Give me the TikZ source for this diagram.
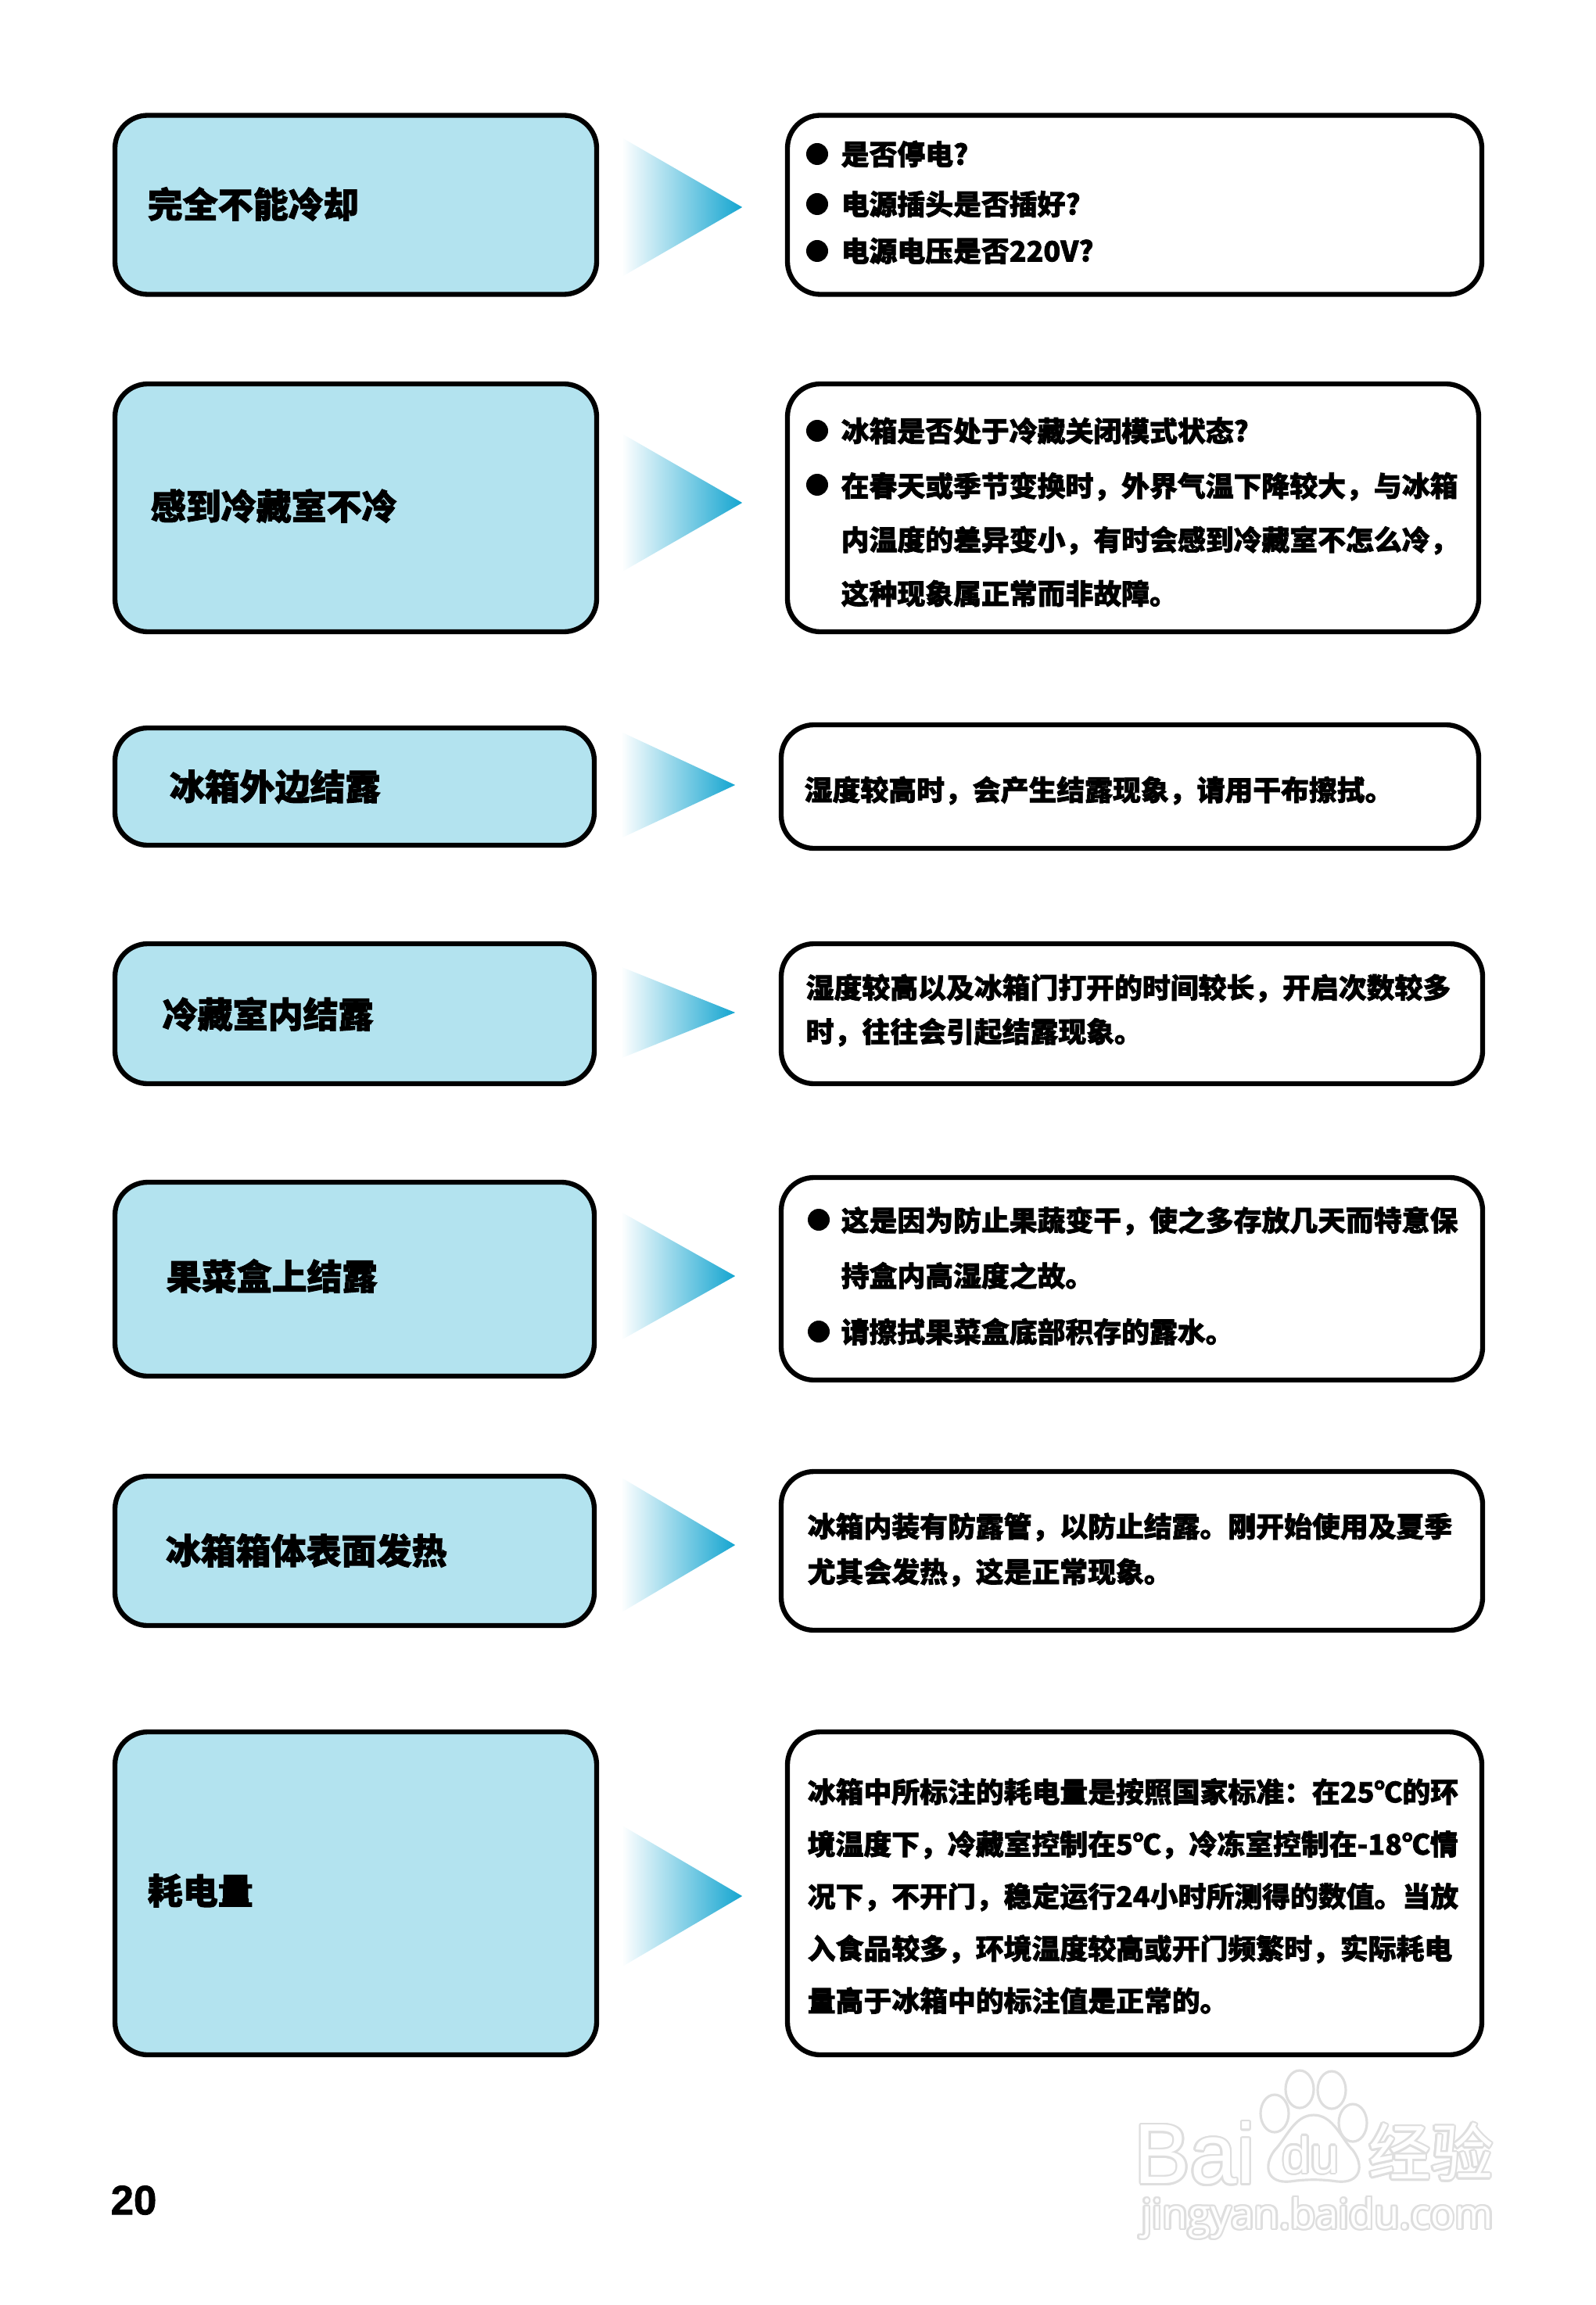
\documentclass[tikz,border=0pt]{standalone}
\usepackage{fontspec}
\usepackage{xcolor}
\usepackage{contour}
\usepackage{tikz}
\usetikzlibrary{shapes.geometric,positioning}
\newfontfamily\cjk[BoldFeatures={FakeBold=2}]{Noto Sans CJK SC}
\newfontfamily\latinsans[BoldFeatures={FakeBold=1.5}]{Liberation Sans}
\newfontfamily\marksans{Open Sans}
\definecolor{boxblue}{HTML}{B3E3EF}
\definecolor{tipblue}{HTML}{14A5D0}
\definecolor{tipmid}{HTML}{6CC6E0}
\definecolor{markgray}{HTML}{DEDEDE}
\contourlength{0.7pt}
\tikzset{
    faultbox/.style={draw=black, line width=1.8pt, fill=boxblue, rounded corners=0.42cm, inner sep=0pt},
    answerbox/.style={draw=black, line width=1.8pt, fill=white, rounded corners=0.42cm, inner sep=0pt},
    faulttext/.style={font=\cjk\bfseries\fontsize{12.8}{15}\selectfont, anchor=west, inner sep=0pt},
    anstext/.style={font=\cjk\bfseries\fontsize{10.2}{#1}\selectfont, align=left, anchor=west, inner sep=0pt},
    anstext/.default=15,
    dotmark/.style={circle, fill=black, minimum size=0.28cm, inner sep=0pt},
    gradtip/.style={isosceles triangle, isosceles triangle stretches, anchor=apex, inner sep=0pt, left color=white, middle color=tipmid, right color=tipblue},
    markline/.style={draw=markgray, line width=0.9pt, fill=white}
}
\begin{document}
\begin{tikzpicture}[x=1cm, y=-1cm]
    \useasboundingbox (0,0) rectangle (20.4,29.48);

    % Fault boxes
    \node[faultbox, minimum width=6.16cm, minimum height=2.29cm] (fault1) at (4.55,2.62) {};
    \node[faultbox, minimum width=6.16cm, minimum height=3.17cm] (fault2) at (4.55,6.495) {};
    \node[faultbox, minimum width=6.13cm, minimum height=1.50cm] (fault3) at (4.535,10.06) {};
    \node[faultbox, minimum width=6.13cm, minimum height=1.79cm] (fault4) at (4.535,12.965) {};
    \node[faultbox, minimum width=6.13cm, minimum height=2.48cm] (fault5) at (4.535,16.36) {};
    \node[faultbox, minimum width=6.13cm, minimum height=1.91cm] (fault6) at (4.535,19.835) {};
    \node[faultbox, minimum width=6.16cm, minimum height=4.13cm] (fault7) at (4.55,24.215) {};

    \node[faulttext] (faulttext1) at (1.88,2.61) {完全不能冷却};
    \node[faulttext] (faulttext2) at (1.92,6.47) {感到冷藏室不冷};
    \node[faulttext] (faulttext3) at (2.16,10.06) {冰箱外边结露};
    \node[faulttext] (faulttext4) at (2.07,12.97) {冷藏室内结露};
    \node[faulttext] (faulttext5) at (2.12,16.32) {果菜盒上结露};
    \node[faulttext] (faulttext6) at (2.11,19.83) {冰箱箱体表面发热};
    \node[faulttext] (faulttext7) at (1.88,24.18) {耗电量};

    % Answer boxes
    \node[answerbox, minimum width=8.88cm, minimum height=2.29cm] (answer1) at (14.51,2.62) {};
    \node[answerbox, minimum width=8.84cm, minimum height=3.17cm] (answer2) at (14.49,6.495) {};
    \node[answerbox, minimum width=8.92cm, minimum height=1.58cm] (answer3) at (14.45,10.06) {};
    \node[answerbox, minimum width=8.97cm, minimum height=1.79cm] (answer4) at (14.475,12.965) {};
    \node[answerbox, minimum width=8.97cm, minimum height=2.59cm] (answer5) at (14.475,16.355) {};
    \node[answerbox, minimum width=8.97cm, minimum height=2.03cm] (answer6) at (14.475,19.835) {};
    \node[answerbox, minimum width=8.88cm, minimum height=4.13cm] (answer7) at (14.51,24.215) {};

    % Gradient tips
    \node[gradtip, minimum width=1.78cm, minimum height=1.54cm] (tip1) at (9.51,2.65) {};
    \node[gradtip, minimum width=1.77cm, minimum height=1.54cm] (tip2) at (9.51,6.43) {};
    \node[gradtip, minimum width=1.36cm, minimum height=1.46cm] (tip3) at (9.42,10.04) {};
    \node[gradtip, minimum width=1.17cm, minimum height=1.46cm] (tip4) at (9.42,12.95) {};
    \node[gradtip, minimum width=1.64cm, minimum height=1.46cm] (tip5) at (9.42,16.32) {};
    \node[gradtip, minimum width=1.73cm, minimum height=1.46cm] (tip6) at (9.42,19.76) {};
    \node[gradtip, minimum width=1.81cm, minimum height=1.54cm] (tip7) at (9.51,24.25) {};

    % Answer 1
    \node[dotmark] (dot1a) at (10.45,1.97) {};
    \node[dotmark] (dot1b) at (10.45,2.61) {};
    \node[dotmark] (dot1c) at (10.45,3.21) {};
    \node[anstext] (ans1a) at (10.75,1.97) {是否停电?};
    \node[anstext] (ans1b) at (10.75,2.61) {电源插头是否插好?};
    \node[anstext] (ans1c) at (10.75,3.21) {电源电压是否220V?};

    % Answer 2
    \node[dotmark] (dot2a) at (10.45,5.51) {};
    \node[dotmark] (dot2b) at (10.45,6.20) {};
    \node[anstext] (ans2a) at (10.75,5.51) {冰箱是否处于冷藏关闭模式状态?};
    \node[anstext=19.6] (ans2b) at (10.75,6.90) {在春天或季节变换时^^^^ff0c外界气温下降较大^^^^ff0c与冰箱\\内温度的差异变小^^^^ff0c有时会感到冷藏室不怎么冷^^^^ff0c\\这种现象属正常而非故障。};

    % Answers 3 and 4
    \node[anstext] (ans3) at (10.28,10.11) {湿度较高时^^^^ff0c会产生结露现象^^^^ff0c请用干布擦拭。};
    \node[anstext=16] (ans4) at (10.30,12.92) {湿度较高以及冰箱门打开的时间较长^^^^ff0c开启次数较多\\时^^^^ff0c往往会引起结露现象。};

    % Answer 5
    \node[dotmark] (dot5a) at (10.47,15.60) {};
    \node[dotmark] (dot5b) at (10.47,17.03) {};
    \node[anstext=20.2] (ans5a) at (10.75,15.96) {这是因为防止果蔬变干^^^^ff0c使之多存放几天而特意保\\持盒内高湿度之故。};
    \node[anstext] (ans5b) at (10.75,17.03) {请擦拭果菜盒底部积存的露水。};

    % Answers 6 and 7
    \node[anstext=16.5] (ans6) at (10.32,19.82) {冰箱内装有防露管^^^^ff0c以防止结露。刚开始使用及夏季\\尤其会发热^^^^ff0c这是正常现象。};
    \node[anstext=19] (ans7) at (10.32,24.25) {冰箱中所标注的耗电量是按照国家标准^^^^ff1a在25℃的环\\境温度下^^^^ff0c冷藏室控制在5℃^^^^ff0c冷冻室控制在-18℃情\\况下^^^^ff0c不开门^^^^ff0c稳定运行24小时所测得的数值。当放\\入食品较多^^^^ff0c环境温度较高或开门频繁时^^^^ff0c实际耗电\\量高于冰箱中的标注值是正常的。};

    % Page number
    \node[font=\latinsans\bfseries\fontsize{15}{18}\selectfont, inner sep=0pt] (pagenum) at (1.71,28.14) {20};

    % Watermark
    \draw[markline] (16.30,27.03) ellipse [x radius=0.18, y radius=0.24];
    \draw[markline] (16.62,26.72) ellipse [x radius=0.18, y radius=0.24];
    \draw[markline] (17.03,26.73) ellipse [x radius=0.18, y radius=0.24];
    \draw[markline] (17.30,27.15) ellipse [x radius=0.18, y radius=0.24];
    \draw[markline] (16.80,27.05) .. controls (17.05,27.05) and (17.15,27.35) .. (17.30,27.50) .. controls (17.45,27.70) and (17.40,27.93) .. (17.10,27.90) .. controls (16.90,27.87) and (16.70,27.87) .. (16.50,27.90) .. controls (16.20,27.93) and (16.15,27.70) .. (16.30,27.50) .. controls (16.45,27.35) and (16.55,27.05) .. (16.80,27.05) -- cycle;
    \node[font=\latinsans\fontsize{31}{34}\selectfont, inner sep=0pt, xscale=0.98] (markbai) at (15.28,27.55) {\contour{markgray}{\textcolor{white}{Bai}}};
    \node[font=\latinsans\fontsize{18.5}{20}\selectfont, inner sep=0pt] (markdu) at (16.76,27.57) {\contour{markgray}{\textcolor{white}{du}}};
    \node[font=\cjk\fontsize{22.7}{25}\selectfont, inner sep=0pt] (markjy) at (18.30,27.53) {\contour{markgray}{\textcolor{white}{经验}}};
    \node[font=\marksans\fontsize{15}{17}\selectfont, inner sep=0pt] (markurl) at (16.85,28.38) {\contour{markgray}{\textcolor{white}{jingyan.baidu.com}}};
\end{tikzpicture}
\end{document}
